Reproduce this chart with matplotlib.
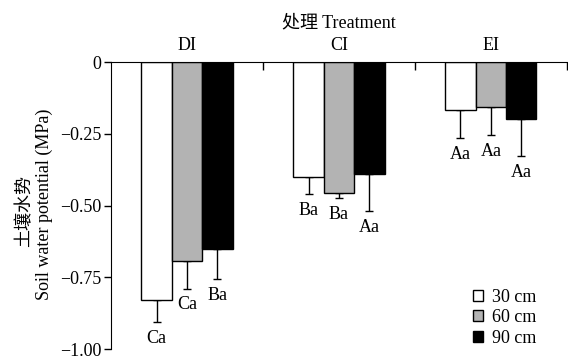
import matplotlib.pyplot as plt
import numpy as np

plt.rcParams['font.family'] = ['Liberation Serif', 'Noto Sans CJK SC']
plt.rcParams['axes.unicode_minus'] = True

# Soil water potential (MPa) per treatment and depth
treatments = ['DI', 'CI', 'EI']
depths = ['30 cm', '60 cm', '90 cm']
mean_30 = [-0.83, -0.40, -0.166]
mean_60 = [-0.695, -0.455, -0.158]
mean_90 = [-0.653, -0.39, -0.198]
err_30 = [0.077, 0.06, 0.10]
err_60 = [0.095, 0.02, 0.097]
err_90 = [0.104, 0.13, 0.13]
letters_30 = ['Ca', 'Ba', 'Aa']
letters_60 = ['Ca', 'Ba', 'Aa']
letters_90 = ['Ba', 'Aa', 'Aa']

means = [mean_30, mean_60, mean_90]
errs = [err_30, err_60, err_90]
letters = [letters_30, letters_60, letters_90]
colors = ['white', '#b3b3b3', 'black']
fs = 13

fig = plt.figure(figsize=(5.68, 3.58), dpi=100)
ax = fig.add_axes([0.1954, 0.0251, 0.8026, 0.8017])

x = np.arange(len(treatments))
w = 0.2
for i in range(3):
    pos = x + (i - 1) * w
    ax.bar(pos, means[i], width=w, color=colors[i], edgecolor='black',
           linewidth=1.0, label=depths[i], zorder=2)
    ax.errorbar(pos, means[i], yerr=[errs[i], [0] * 3], fmt='none',
                ecolor='black', elinewidth=1.0, capsize=3, capthick=1.0, zorder=1)
    for xp, m, e, t in zip(pos, means[i], errs[i], letters[i]):
        ax.annotate(t, (xp, m - e), xytext=(0, -5.5), textcoords='offset points',
                    ha='center', va='top', fontsize=fs)

ax.set_xlim(-0.5, 2.5)
ax.set_ylim(-1.0, 0)
ax.set_yticks([0, -0.25, -0.5, -0.75, -1.0])
ax.set_yticklabels(['0', '\u22120.25', '\u22120.50', '\u22120.75', '\u22121.00'], fontsize=fs)
ax.tick_params(axis='y', direction='out', length=5, width=1, pad=2)

# treatment names sit on top, separators as small inward ticks
ax.xaxis.tick_top()
ax.set_xticks(x)
ax.set_xticklabels(treatments, fontsize=fs)
ax.set_xticks([0.5, 1.5, 2.5], minor=True)
ax.tick_params(axis='x', which='major', length=0, pad=6)
ax.tick_params(axis='x', which='minor', direction='in', length=6, width=1)
ax.set_title('处理 Treatment', fontsize=fs, pad=25)

ax.spines['bottom'].set_visible(False)
ax.spines['right'].set_visible(False)

fig.text(0.044, 0.41, '土壤水势', rotation=90, ha='center', va='center', fontsize=fs)
fig.text(0.078, 0.43, 'Soil water potential (MPa)', rotation=90,
         ha='center', va='center', fontsize=fs)

ax.legend(loc='lower right', bbox_to_anchor=(0.957, -0.03), frameon=False, fontsize=fs,
          handlelength=0.55, handleheight=0.55, handletextpad=0.5, labelspacing=0.2,
          borderaxespad=0.2)

fig.savefig('out.png', dpi=100)
